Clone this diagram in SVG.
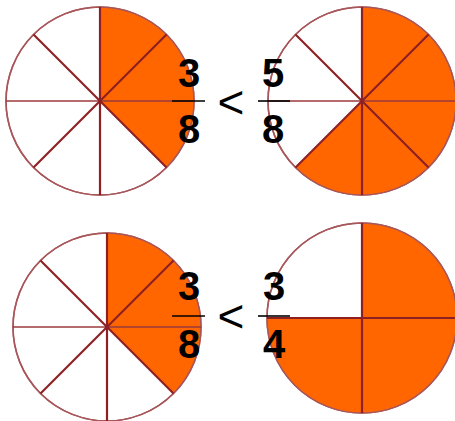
<svg xmlns="http://www.w3.org/2000/svg" width="455" height="421" viewBox="0 0 455 421">
<style>
.ring{fill:#fff;stroke:#a8565a;stroke-width:1.5}
.fill{fill:#ff6600;stroke:none}
.spoke{stroke:#8e1f22;stroke-width:2.2;fill:none}
.hz{stroke:#9a3a3d;stroke-width:1.6;fill:none}
.num{font-family:"Liberation Sans",Arial,sans-serif;font-weight:bold;font-size:40px;fill:#000;text-anchor:middle}
.op{font-family:"Liberation Sans",Arial,sans-serif;font-size:46px;fill:#000;text-anchor:middle}
.bar{stroke:#000;stroke-width:1.6}
</style>
<g id="pie-tl">
<circle class="ring" cx="100" cy="101" r="94"/>
<path class="fill" d="M100,101 L100,7 A94,94 0 0 1 166.5,167.5 Z"/>
<circle cx="100" cy="101" r="94" fill="none" stroke="#a8565a" stroke-width="1.5"/>
<line class="spoke" x1="100" y1="7" x2="100" y2="195"/>
<line class="hz" x1="6" y1="101" x2="194" y2="101"/>
<line class="spoke" x1="33.5" y1="34.5" x2="166.5" y2="167.5"/>
<line class="spoke" x1="166.5" y1="34.5" x2="33.5" y2="167.5"/>
</g>
<g id="pie-tr">
<circle class="ring" cx="362" cy="101" r="94"/>
<path class="fill" d="M362,101 L362,7 A94,94 0 1 1 295.5,167.5 Z"/>
<circle cx="362" cy="101" r="94" fill="none" stroke="#a8565a" stroke-width="1.5"/>
<line class="spoke" x1="362" y1="7" x2="362" y2="195"/>
<line class="hz" x1="268" y1="101" x2="456" y2="101"/>
<line class="spoke" x1="295.5" y1="34.5" x2="428.5" y2="167.5"/>
<line class="spoke" x1="428.5" y1="34.5" x2="295.5" y2="167.5"/>
</g>
<g id="pie-bl">
<circle class="ring" cx="107" cy="327" r="94"/>
<path class="fill" d="M107,327 L107,233 A94,94 0 0 1 173.5,393.5 Z"/>
<circle cx="107" cy="327" r="94" fill="none" stroke="#a8565a" stroke-width="1.5"/>
<line class="spoke" x1="107" y1="233" x2="107" y2="421"/>
<line class="hz" x1="13" y1="327" x2="201" y2="327"/>
<line class="spoke" x1="40.5" y1="260.5" x2="173.5" y2="393.5"/>
<line class="spoke" x1="173.5" y1="260.5" x2="40.5" y2="393.5"/>
</g>
<g id="pie-br">
<circle class="ring" cx="362" cy="318" r="95"/>
<path class="fill" d="M362,318 L362,223 A95,95 0 1 1 267,318 Z"/>
<circle cx="362" cy="318" r="95" fill="none" stroke="#a8565a" stroke-width="1.5"/>
<line class="spoke" x1="362" y1="223" x2="362" y2="413"/>
<line class="spoke" x1="267" y1="318" x2="457" y2="318"/>
</g>
<g id="cmp-top">
<text class="num" x="189" y="87">3</text>
<line class="bar" x1="172" y1="101" x2="205" y2="101"/>
<text class="num" x="189" y="143">8</text>
<text class="op" x="231" y="118">&lt;</text>
<text class="num" x="273" y="87">5</text>
<line class="bar" x1="258" y1="101" x2="290" y2="101"/>
<text class="num" x="273" y="143">8</text>
</g>
<g id="cmp-bottom">
<text class="num" x="189" y="300">3</text>
<line class="bar" x1="172" y1="316" x2="205" y2="316"/>
<text class="num" x="189" y="358">8</text>
<text class="op" x="231" y="332">&lt;</text>
<text class="num" x="274" y="300">3</text>
<line class="bar" x1="258" y1="316" x2="290" y2="316"/>
<text class="num" x="274" y="358">4</text>
</g>
</svg>
